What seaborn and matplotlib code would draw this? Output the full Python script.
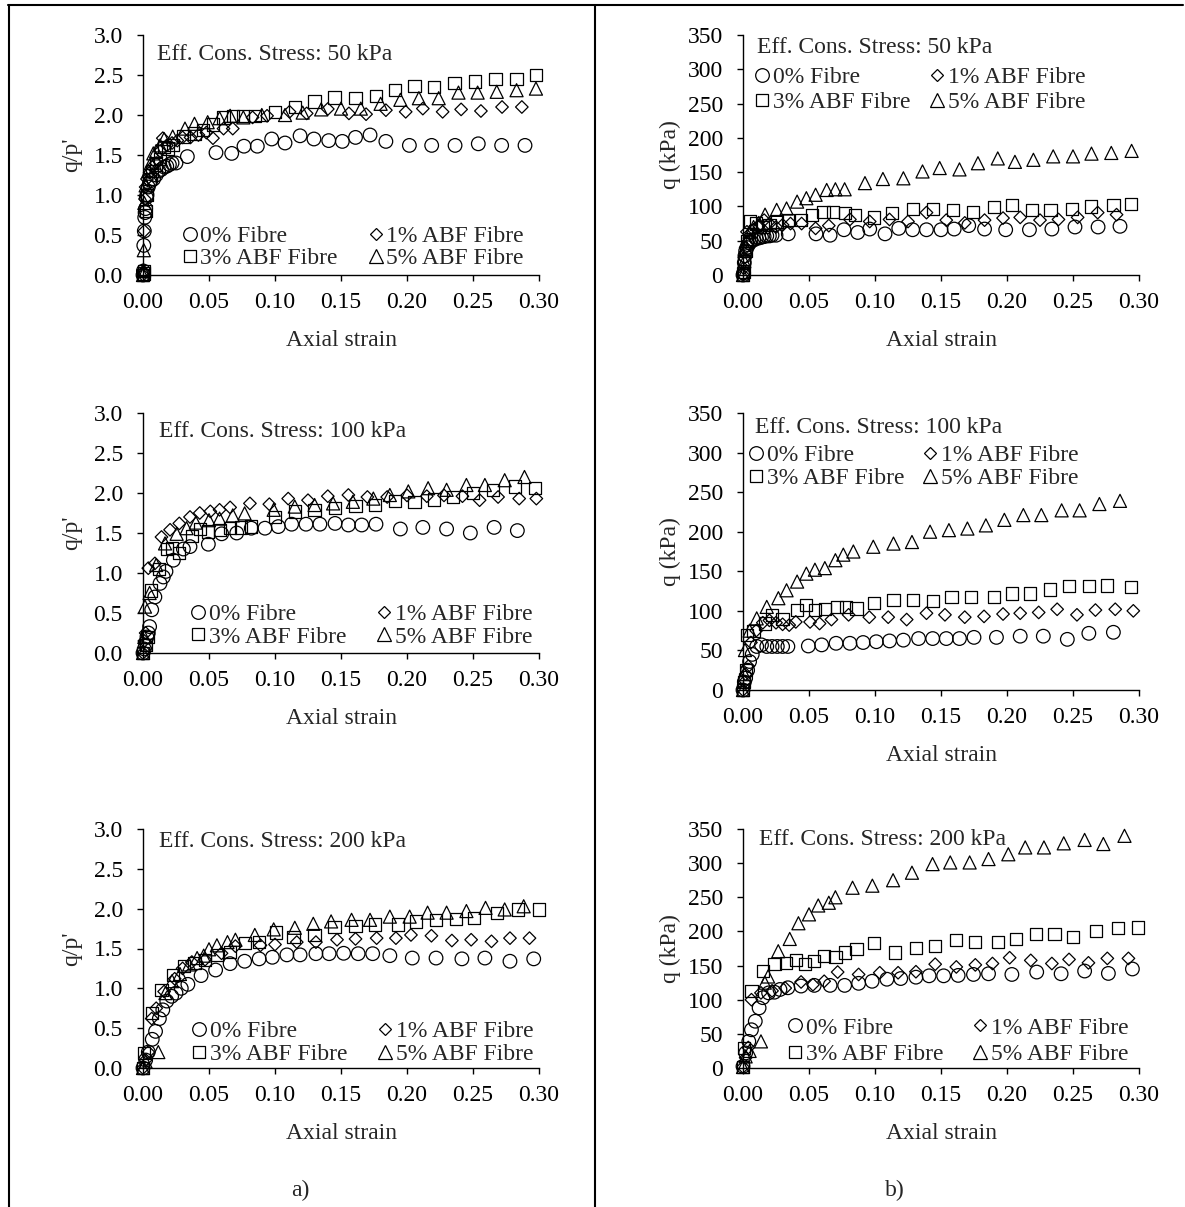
import numpy as np
import pandas as pd
import matplotlib
matplotlib.use("Agg")
import matplotlib.pyplot as plt
from matplotlib.lines import Line2D
from matplotlib.ticker import FormatStrFormatter
import seaborn as sns

# ---------------- data ----------------
series_names = ["0% Fibre", "1% ABF Fibre", "3% ABF Fibre", "5% ABF Fibre"]
stress_labels = ["Eff. Cons. Stress: 50 kPa", "Eff. Cons. Stress: 100 kPa", "Eff. Cons. Stress: 200 kPa"]

# ---- 50 kPa, q/p'
a50_x0 = [0.0, 0.0003, 0.0006, 0.001, 0.0013, 0.0016, 0.002, 0.0025, 0.003, 0.004, 0.005, 0.006, 0.008, 0.010, 0.012, 0.014, 0.016, 0.018, 0.020, 0.022, 0.025,
          0.0336, 0.0553, 0.0672, 0.0765, 0.0866, 0.0975, 0.1076, 0.119, 0.1295, 0.1407, 0.151, 0.161, 0.172, 0.184, 0.2018, 0.2187, 0.2364, 0.254, 0.2717, 0.2894]
a50_y0 = [0.0, 0.05, 0.37, 0.55, 0.72, 0.78, 0.83, 0.97, 1.0, 1.1, 1.15, 1.18, 1.2, 1.25, 1.3, 1.32, 1.35, 1.36, 1.38, 1.4, 1.40,
          1.48, 1.53, 1.52, 1.61, 1.61, 1.70, 1.65, 1.74, 1.70, 1.68, 1.67, 1.72, 1.75, 1.67, 1.62, 1.62, 1.62, 1.64, 1.62, 1.62]
a50_x1 = [0.0, 0.0005, 0.001, 0.0015, 0.002, 0.003, 0.005, 0.007, 0.010, 0.013, 0.015, 0.018, 0.022, 0.026, 0.030, 0.036, 0.042, 0.048, 0.053, 0.061, 0.068,
          0.083, 0.094, 0.111, 0.124, 0.140, 0.156, 0.169, 0.184, 0.199, 0.212, 0.227, 0.241, 0.256, 0.272, 0.287]
a50_y1 = [0.0, 0.04, 0.55, 0.95, 1.1, 1.2, 1.28, 1.35, 1.4, 1.55, 1.71, 1.62, 1.65, 1.68, 1.72, 1.72, 1.75, 1.78, 1.71, 1.83, 1.83,
          1.97, 1.99, 2.04, 2.02, 2.075, 2.02, 2.01, 2.06, 2.04, 2.08, 2.04, 2.07, 2.05, 2.10, 2.10]
a50_x2 = [0.0, 0.0005, 0.001, 0.002, 0.003, 0.005, 0.007, 0.010, 0.013, 0.016, 0.019, 0.023, 0.0306, 0.039, 0.0457, 0.053, 0.061, 0.068, 0.076, 0.085,
          0.100, 0.115, 0.130, 0.145, 0.161, 0.1765, 0.191, 0.2056, 0.2207, 0.236, 0.2515, 0.267, 0.283, 0.2977]
a50_y2 = [0.0, 0.02, 0.05, 0.8, 1.0, 1.2, 1.3, 1.38, 1.45, 1.6, 1.58, 1.625, 1.73, 1.77, 1.81, 1.88, 1.97, 1.99, 1.99, 1.99,
          2.04, 2.10, 2.17, 2.22, 2.21, 2.24, 2.31, 2.36, 2.35, 2.40, 2.42, 2.45, 2.45, 2.50]
a50_x3 = [0.0, 0.0003, 0.0006, 0.001, 0.002, 0.004, 0.006, 0.0078, 0.010, 0.013, 0.016, 0.0225, 0.0318, 0.039, 0.049, 0.058, 0.066, 0.076, 0.090,
          0.1076, 0.121, 0.135, 0.150, 0.165, 0.180, 0.195, 0.209, 0.224, 0.239, 0.2535, 0.268, 0.283, 0.2977]
a50_y3 = [0.0, 0.06, 0.31, 0.9, 1.12, 1.3, 1.4, 1.52, 1.55, 1.62, 1.7, 1.73, 1.83, 1.89, 1.91, 1.96, 1.99, 1.97, 2.0,
          2.0, 2.03, 2.07, 2.08, 2.08, 2.14, 2.19, 2.21, 2.21, 2.28, 2.28, 2.29, 2.31, 2.33]

# ---- 50 kPa, q (kPa)
b50_x0 = [0.0, 0.0005, 0.001, 0.0015, 0.002, 0.003, 0.004, 0.005, 0.006, 0.008, 0.010, 0.012, 0.014, 0.016, 0.018, 0.020, 0.022, 0.025,
          0.0343, 0.0553, 0.066, 0.0765, 0.0869, 0.096, 0.1076, 0.118, 0.1285, 0.139, 0.150, 0.160, 0.171, 0.183, 0.199, 0.217, 0.234, 0.2515, 0.269, 0.2856]
b50_y0 = [0, 3, 18, 28, 35, 40, 44, 47, 49, 51, 53, 54, 55, 56, 57, 57, 58, 58,
          60, 60, 58, 66, 62, 67, 60, 68, 66, 66, 66, 67, 72, 67, 66, 66, 67, 70, 70, 71]
b50_x1 = [0.0, 0.0005, 0.001, 0.002, 0.003, 0.005, 0.008, 0.012, 0.016, 0.020, 0.025, 0.030, 0.036, 0.0444, 0.055, 0.065,
          0.081, 0.096, 0.111, 0.125, 0.139, 0.154, 0.168, 0.183, 0.197, 0.210, 0.225, 0.239, 0.2535, 0.2687, 0.283]
b50_y1 = [0, 10, 25, 40, 63, 60, 66, 72, 80, 75, 70, 73, 75, 75, 68, 72,
          81, 78, 81, 78, 91, 80, 76, 80, 83, 84, 80, 81, 84, 91, 88]
b50_x2 = [0.0, 0.0005, 0.001, 0.002, 0.003, 0.0053, 0.010, 0.015, 0.020, 0.0255, 0.034, 0.044, 0.052, 0.061, 0.068, 0.077, 0.085,
          0.099, 0.113, 0.129, 0.1437, 0.159, 0.1745, 0.190, 0.2035, 0.2187, 0.233, 0.249, 0.2636, 0.2806, 0.294]
b50_y2 = [0, 5, 20, 35, 50, 78, 75, 70, 73, 78, 80, 80, 88, 92, 92, 90, 88,
          84, 90, 96, 96, 95, 92, 99, 102, 95, 95, 96, 100, 102, 104]
b50_x3 = [0.0, 0.001, 0.002, 0.003, 0.005, 0.008, 0.012, 0.0167, 0.0255, 0.033, 0.041, 0.048, 0.055, 0.0634, 0.070, 0.077,
          0.0924, 0.106, 0.1215, 0.136, 0.149, 0.164, 0.178, 0.193, 0.206, 0.220, 0.235, 0.250, 0.264, 0.279, 0.2944]
b50_y3 = [0, 20, 40, 52, 63, 70, 76, 88, 95, 97, 107, 112, 117, 124, 125, 125,
          134, 140, 141, 151, 156, 154, 163, 170, 165, 168, 173, 173, 177, 178, 181]

# ---- 100 kPa, q/p'
a100_x0 = [0.0, 0.001, 0.002, 0.003, 0.004, 0.005, 0.0066, 0.009, 0.0129, 0.0154, 0.0174, 0.023, 0.0306, 0.0356, 0.0495, 0.0596, 0.071, 0.082, 0.0924,
           0.1025, 0.1126, 0.1235, 0.134, 0.1455, 0.1556, 0.1657, 0.1765, 0.195, 0.212, 0.230, 0.248, 0.266, 0.2836]
a100_y0 = [0.0, 0.05, 0.10, 0.20, 0.25, 0.33, 0.54, 0.70, 0.87, 0.95, 1.02, 1.16, 1.30, 1.33, 1.36, 1.49, 1.50, 1.56, 1.56,
           1.58, 1.61, 1.61, 1.61, 1.62, 1.60, 1.60, 1.61, 1.55, 1.57, 1.55, 1.50, 1.57, 1.53]
a100_x1 = [0.0, 0.001, 0.002, 0.004, 0.009, 0.014, 0.0205, 0.0275, 0.0356, 0.043, 0.051, 0.058, 0.066, 0.081, 0.0957, 0.110, 0.125, 0.140,
           0.1556, 0.170, 0.185, 0.200, 0.215, 0.228, 0.242, 0.255, 0.269, 0.285, 0.298]
a100_y1 = [0.0, 0.15, 0.25, 1.06, 1.12, 1.45, 1.54, 1.62, 1.70, 1.75, 1.77, 1.79, 1.82, 1.87, 1.86, 1.93, 1.91, 1.96,
           1.975, 1.95, 1.95, 1.97, 1.96, 1.97, 1.96, 1.91, 1.95, 1.93, 1.93]
a100_x2 = [0.0, 0.002, 0.004, 0.006, 0.012, 0.018, 0.0217, 0.027, 0.0369, 0.043, 0.0495, 0.0583, 0.066, 0.074, 0.082, 0.100, 0.115, 0.130,
           0.1455, 0.161, 0.1758, 0.191, 0.2056, 0.2205, 0.235, 0.250, 0.265, 0.282, 0.297]
a100_y2 = [0.0, 0.10, 0.20, 0.78, 1.05, 1.30, 1.31, 1.25, 1.46, 1.55, 1.52, 1.54, 1.56, 1.57, 1.58, 1.70, 1.77, 1.79,
           1.81, 1.84, 1.85, 1.90, 1.89, 1.92, 1.95, 2.00, 2.04, 2.08, 2.06]
a100_x3 = [0.0, 0.001, 0.0015, 0.005, 0.010, 0.0167, 0.0255, 0.033, 0.040, 0.050, 0.058, 0.068, 0.077, 0.099, 0.115, 0.130, 0.144,
           0.159, 0.1745, 0.187, 0.201, 0.216, 0.230, 0.245, 0.259, 0.274, 0.289]
a100_y3 = [0.0, 0.2, 0.58, 0.75, 1.1, 1.37, 1.49, 1.56, 1.63, 1.66, 1.68, 1.72, 1.745, 1.79, 1.83, 1.85, 1.87,
           1.89, 1.93, 1.975, 2.02, 2.06, 2.04, 2.10, 2.10, 2.16, 2.20]

# ---- 100 kPa, q (kPa)
b100_x0 = [0.0, 0.001, 0.002, 0.0035, 0.005, 0.007, 0.0104, 0.014, 0.018, 0.022, 0.026, 0.030, 0.034, 0.0495, 0.0596, 0.0705, 0.081, 0.091,
           0.101, 0.111, 0.1215, 0.133, 0.1437, 0.154, 0.164, 0.175, 0.192, 0.210, 0.2275, 0.2457, 0.262, 0.2806]
b100_y0 = [0, 10, 15, 25, 36, 45, 55, 57, 55, 55, 55, 55, 55, 55.6, 57, 59, 59, 60,
           61, 62, 63, 65, 65, 65, 65, 66.5, 66.5, 68, 68, 64, 71.6, 72.9]
b100_x1 = [0.0, 0.001, 0.002, 0.004, 0.006, 0.010, 0.015, 0.020, 0.025, 0.030, 0.035, 0.040, 0.0508, 0.058, 0.067, 0.080, 0.0957,
           0.110, 0.124, 0.139, 0.153, 0.168, 0.1826, 0.197, 0.210, 0.224, 0.238, 0.253, 0.267, 0.282, 0.2957]
b100_y1 = [0, 10, 20, 30, 60, 75, 85, 88, 85, 83, 82, 86, 86, 84, 89, 95, 92,
           92, 89, 97, 95, 92, 93, 96, 97, 98, 102, 95, 101, 102, 100]
b100_x2 = [0.0, 0.001, 0.002, 0.0028, 0.008, 0.0167, 0.022, 0.030, 0.0407, 0.048, 0.0545, 0.062, 0.071, 0.078, 0.086, 0.0992, 0.114,
           0.129, 0.1437, 0.158, 0.1725, 0.190, 0.2035, 0.2174, 0.2326, 0.2472, 0.262, 0.276, 0.294]
b100_y2 = [0, 10, 25, 69.5, 75, 84, 95, 90, 101, 107, 101, 102, 105, 105, 103, 110, 114,
           114, 112, 118, 118, 118, 122, 122, 127, 131, 131, 132, 130]
b100_x3 = [0.0, 0.001, 0.0015, 0.005, 0.0104, 0.018, 0.0268, 0.033, 0.041, 0.048, 0.0545, 0.062, 0.070, 0.076, 0.0836, 0.0987,
           0.114, 0.128, 0.1417, 0.156, 0.170, 0.184, 0.198, 0.2124, 0.226, 0.2414, 0.255, 0.270, 0.2856]
b100_y3 = [0, 20, 50.5, 75, 90.5, 105, 116, 126, 137, 147, 152, 154, 164, 171, 175, 181,
           185, 187, 200, 202, 204, 208, 215, 221, 221, 227, 227, 235, 239]

# ---- 200 kPa, q/p'
a200_x0 = [0.0, 0.002, 0.004, 0.007, 0.0095, 0.0124, 0.015, 0.018, 0.0217, 0.025, 0.029, 0.034, 0.044, 0.055, 0.066, 0.077, 0.088, 0.098,
           0.109, 0.119, 0.131, 0.141, 0.152, 0.163, 0.174, 0.187, 0.204, 0.222, 0.2416, 0.259, 0.278, 0.296]
a200_y0 = [0.0, 0.1, 0.2, 0.36, 0.46, 0.62, 0.73, 0.84, 0.90, 0.94, 1.0, 1.05, 1.16, 1.23, 1.31, 1.34, 1.37, 1.39,
           1.42, 1.42, 1.435, 1.435, 1.44, 1.435, 1.435, 1.41, 1.38, 1.38, 1.37, 1.38, 1.34, 1.37]
a200_x1 = [0.0, 0.002, 0.004, 0.0066, 0.010, 0.016, 0.024, 0.030, 0.037, 0.047, 0.0595, 0.070, 0.089, 0.100, 0.1165, 0.131, 0.147,
           0.161, 0.177, 0.1916, 0.203, 0.2185, 0.234, 0.2486, 0.264, 0.278, 0.2928]
a200_y1 = [0.0, 0.1, 0.2, 0.62, 0.75, 0.96, 1.12, 1.25, 1.33, 1.36, 1.44, 1.53, 1.54, 1.55, 1.58, 1.58, 1.61,
           1.62, 1.63, 1.63, 1.67, 1.66, 1.60, 1.61, 1.59, 1.63, 1.63]
a200_x2 = [0.0, 0.001, 0.0066, 0.014, 0.0225, 0.031, 0.039, 0.047, 0.056, 0.066, 0.077, 0.088, 0.1006, 0.114, 0.130, 0.145,
           0.161, 0.176, 0.193, 0.207, 0.222, 0.237, 0.251, 0.268, 0.284, 0.300]
a200_y2 = [0.0, 0.19, 0.69, 0.98, 1.17, 1.28, 1.32, 1.36, 1.42, 1.46, 1.57, 1.58, 1.70, 1.64, 1.67, 1.77,
           1.78, 1.80, 1.80, 1.84, 1.86, 1.87, 1.88, 1.95, 1.99, 1.99]
a200_x3 = [0.0, 0.002, 0.0116, 0.017, 0.022, 0.028, 0.035, 0.041, 0.046, 0.050, 0.056, 0.064, 0.070, 0.0847, 0.099, 0.115, 0.129,
           0.1425, 0.158, 0.172, 0.187, 0.202, 0.2156, 0.230, 0.245, 0.2595, 0.274, 0.2884]
a200_y3 = [0.0, 0.08, 0.2, 0.94, 1.09, 1.18, 1.30, 1.38, 1.41, 1.49, 1.54, 1.58, 1.61, 1.67, 1.74, 1.76, 1.81,
           1.84, 1.86, 1.86, 1.90, 1.90, 1.95, 1.95, 1.97, 2.01, 1.99, 2.03]

# ---- 200 kPa, q (kPa)
b200_x0 = [0.0, 0.002, 0.0044, 0.0064, 0.0093, 0.0122, 0.015, 0.0194, 0.0238, 0.028, 0.034, 0.044, 0.054, 0.066, 0.077, 0.0876,
           0.0978, 0.109, 0.1195, 0.131, 0.141, 0.152, 0.163, 0.1746, 0.186, 0.2037, 0.2225, 0.241, 0.2588, 0.2768, 0.295]
b200_y0 = [2.4, 22, 39, 56, 68.5, 88, 103, 110, 111, 115, 117.5, 120, 121, 121, 121, 124,
           127, 130, 131, 133, 135, 135, 135.6, 137, 138, 137, 140.5, 138, 142, 138.5, 145]
b200_x1 = [0.0, 0.002, 0.004, 0.0064, 0.0136, 0.022, 0.032, 0.044, 0.053, 0.0615, 0.0717, 0.0876, 0.1036, 0.1175, 0.131,
           0.1456, 0.1616, 0.176, 0.189, 0.202, 0.218, 0.234, 0.247, 0.2617, 0.276, 0.292]
b200_y1 = [1.5, 15, 30, 100, 110, 113, 117, 126, 122, 127, 140.5, 137, 139.5, 139.5, 141,
           152, 148, 151, 153, 161.5, 157.6, 153, 159, 154, 160.5, 160.5]
b200_x2 = [0.0, 0.0006, 0.0064, 0.015, 0.0238, 0.0325, 0.040, 0.047, 0.054, 0.0615, 0.070, 0.0775, 0.086, 0.099, 0.115, 0.131,
           0.1456, 0.1616, 0.176, 0.193, 0.2066, 0.222, 0.236, 0.250, 0.2675, 0.284, 0.299]
b200_y2 = [1.5, 29, 112.6, 142, 152, 154, 157.6, 152.7, 156.6, 164, 163, 169, 174, 183.6, 169, 176,
           178.7, 187, 184.5, 185, 189.4, 195.8, 195.8, 192, 200.7, 204.6, 205.6]
b200_x3 = [0.0, 0.002, 0.005, 0.0136, 0.0165, 0.019, 0.0267, 0.0354, 0.042, 0.050, 0.057, 0.065, 0.070, 0.083, 0.098, 0.1137,
           0.128, 0.1436, 0.157, 0.1717, 0.186, 0.201, 0.2138, 0.228, 0.243, 0.2588, 0.273, 0.289]
b200_y3 = [1.5, 17, 25, 39, 125, 134, 171, 189, 212, 225, 238, 242, 250, 264, 267, 275,
           286, 298.6, 301, 301, 306, 313, 323, 323, 329, 334, 328, 340]

x_ticks = [0.00, 0.05, 0.10, 0.15, 0.20, 0.25, 0.30]
ratio_ticks = [0.0, 0.5, 1.0, 1.5, 2.0, 2.5, 3.0]
q_ticks = [0, 50, 100, 150, 200, 250, 300, 350]

# ---------------- style ----------------
sns.set_style("ticks")
plt.rcParams["font.family"] = ["Liberation Serif", "DejaVu Serif"]
plt.rcParams["font.size"] = 17
plt.rcParams["axes.linewidth"] = 1.0
plt.rcParams["xtick.major.size"] = 4.5
plt.rcParams["ytick.major.size"] = 4.5
plt.rcParams["xtick.major.width"] = 1.0
plt.rcParams["ytick.major.width"] = 1.0
plt.rcParams["xtick.color"] = "black"
plt.rcParams["ytick.color"] = "black"
plt.rcParams["axes.edgecolor"] = "black"

W, H = 1185, 1207
fig = plt.figure(figsize=(W / 100, H / 100), dpi=100)

markers = {"0% Fibre": "o", "1% ABF Fibre": "D", "3% ABF Fibre": "s", "5% ABF Fibre": "^"}
msizes = {"0% Fibre": 9.8, "1% ABF Fibre": 6.4, "3% ABF Fibre": 8.8, "5% ABF Fibre": 9.4}
EW = 0.9
# legend order so that rows read: 0% | 1%  /  3% | 5%
legend_order = ["0% Fibre", "3% ABF Fibre", "1% ABF Fibre", "5% ABF Fibre"]


def px_axes(left, top, right, bottom):
    return fig.add_axes([left / W, 1 - bottom / H, (right - left) / W, (bottom - top) / H])


def draw_panel(ax, xs, ys, is_ratio, title, title_pos, leg_pos, colspacing, rowspacing):
    for name, x, y in zip(series_names, xs, ys):
        d = pd.DataFrame({"strain": x, "val": y})
        sns.scatterplot(data=d, x="strain", y="val", marker=markers[name], s=msizes[name] ** 2,
                        color="black", facecolor="none", edgecolor="black", linewidth=EW,
                        ax=ax, legend=False, clip_on=False, zorder=3)
    ax.set_xlim(0, 0.30)
    ax.set_xticks(x_ticks)
    ax.xaxis.set_major_formatter(FormatStrFormatter("%.2f"))
    if is_ratio:
        ax.set_ylim(0, 3.0)
        ax.set_yticks(ratio_ticks)
        ax.yaxis.set_major_formatter(FormatStrFormatter("%.1f"))
        ax.set_ylabel("q/p'", labelpad=8)
    else:
        ax.set_ylim(0, 350)
        ax.set_yticks(q_ticks)
        ax.set_ylabel("q (kPa)", labelpad=5)
    ax.set_xlabel("Axial strain", labelpad=12)
    ax.tick_params(axis="x", pad=8)
    ax.tick_params(axis="y", pad=10)
    sns.despine(ax=ax)
    ax.text(title_pos[0], title_pos[1], title, transform=ax.transAxes, ha="left", va="center")
    handles = [Line2D([], [], ls="none", marker=markers[n], mfc="none", mec="black",
                      ms=msizes[n], mew=EW) for n in legend_order]
    ax.legend(handles, legend_order, ncol=2, loc="center left", bbox_to_anchor=leg_pos,
              frameon=False, handlelength=0.6, handletextpad=0.15, columnspacing=colspacing,
              labelspacing=rowspacing, borderpad=0, borderaxespad=0)


ax_tl = px_axes(143, 35, 539, 275)
ax_tr = px_axes(743, 35, 1139, 275)
ax_ml = px_axes(143, 413, 539, 653)
ax_mr = px_axes(743, 413, 1139, 690)
ax_bl = px_axes(143, 829, 539, 1068)
ax_br = px_axes(743, 829, 1139, 1068)

draw_panel(ax_tl, [a50_x0, a50_x1, a50_x2, a50_x3], [a50_y0, a50_y1, a50_y2, a50_y3], True,
           stress_labels[0], (0.035, 0.917), (0.100, 0.115), 1.3, 0.0)
draw_panel(ax_tr, [b50_x0, b50_x1, b50_x2, b50_x3], [b50_y0, b50_y1, b50_y2, b50_y3], False,
           stress_labels[0], (0.035, 0.946), (0.030, 0.771), 0.85, 0.15)
draw_panel(ax_ml, [a100_x0, a100_x1, a100_x2, a100_x3], [a100_y0, a100_y1, a100_y2, a100_y3], True,
           stress_labels[1], (0.04, 0.921), (0.121, 0.115), 1.3, 0.05)
draw_panel(ax_mr, [b100_x0, b100_x1, b100_x2, b100_x3], [b100_y0, b100_y1, b100_y2, b100_y3], False,
           stress_labels[1], (0.03, 0.949), (0.015, 0.805), 0.8, 0.05)
draw_panel(ax_bl, [a200_x0, a200_x1, a200_x2, a200_x3], [a200_y0, a200_y1, a200_y2, a200_y3], True,
           stress_labels[2], (0.04, 0.946), (0.124, 0.105), 1.3, 0.05)
draw_panel(ax_br, [b200_x0, b200_x1, b200_x2, b200_x3], [b200_y0, b200_y1, b200_y2, b200_y3], False,
           stress_labels[2], (0.04, 0.958), (0.114, 0.113), 1.25, 0.2)

# panel tags
fig.text(300 / W, 1 - 1190 / H, "a)", ha="center", va="center")
fig.text(895 / W, 1 - 1190 / H, "b)", ha="center", va="center")

# table-like frame lines
fig.add_artist(Line2D([8 / W, 1183 / W], [1 - 5 / H, 1 - 5 / H], transform=fig.transFigure, color="black", lw=1.5))
fig.add_artist(Line2D([8.5 / W, 8.5 / W], [1 - 5 / H, 0], transform=fig.transFigure, color="black", lw=1.5))
fig.add_artist(Line2D([595 / W, 595 / W], [1 - 5 / H, 0], transform=fig.transFigure, color="black", lw=1.5))

fig.savefig("out.png", dpi=100, facecolor="white")
